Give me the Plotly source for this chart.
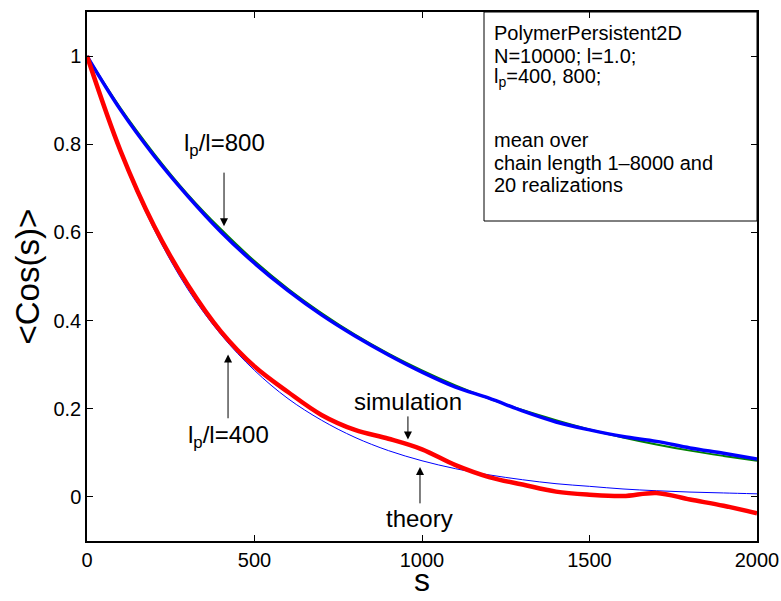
import plotly.graph_objects as go

s = [0, 100, 200, 300, 400, 500, 600, 700, 800, 900, 1000,
     1100, 1200, 1300, 1400, 1500, 1600, 1700, 1800, 1900, 2000]
theory_400 = [1.000, 0.779, 0.607, 0.472, 0.368, 0.287, 0.223, 0.174, 0.135, 0.105, 0.082,
              0.064, 0.050, 0.039, 0.030, 0.024, 0.018, 0.014, 0.011, 0.009, 0.007]
theory_800 = [1.000, 0.882, 0.779, 0.687, 0.607, 0.535, 0.472, 0.417, 0.368, 0.325, 0.287,
              0.253, 0.223, 0.197, 0.174, 0.153, 0.135, 0.119, 0.105, 0.093, 0.082]
sim_400 = [1.000, 0.785, 0.615, 0.482, 0.375, 0.296, 0.238, 0.186, 0.152, 0.132, 0.108,
           0.072, 0.045, 0.028, 0.012, 0.005, 0.002, 0.009, -0.006, -0.020, -0.037]
sim_800 = [1.000, 0.878, 0.774, 0.683, 0.601, 0.530, 0.468, 0.413, 0.365, 0.322, 0.283,
           0.249, 0.224, 0.195, 0.170, 0.152, 0.137, 0.126, 0.111, 0.099, 0.086]

xticks = [0, 500, 1000, 1500, 2000]
yticks = [0, 0.2, 0.4, 0.6, 0.8, 1]
ytick_labels = ["0", "0.2", "0.4", "0.6", "0.8", "1"]

info_lines = ["PolymerPersistent2D", "N=10000; l=1.0;", "l<sub>p</sub>=400, 800;",
              "mean over", "chain length 1\u20138000 and", "20 realizations"]
info_y_px = [33, 56, 78, 140, 163, 185]

FONT = "Liberation Sans, Arial, Helvetica, sans-serif"
W, H = 781, 601
ML, MR, MT, MB = 87, 24, 12, 60
PW, PH = W - ML - MR, H - MT - MB

fig = go.Figure()
fig.add_trace(go.Scatter(x=s, y=theory_800, mode="lines", line=dict(color="#008000", width=2, shape="spline")))
fig.add_trace(go.Scatter(x=s, y=sim_800, mode="lines", line=dict(color="#0000ff", width=3.5, shape="spline")))
fig.add_trace(go.Scatter(x=s, y=theory_400, mode="lines", line=dict(color="#0000ff", width=1, shape="spline")))
fig.add_trace(go.Scatter(x=s, y=sim_400, mode="lines", line=dict(color="#ff0000", width=4.5, shape="spline")))

annots = []
def text_ann(x, y, t, size=24):
    annots.append(dict(x=x, y=y, xref="x", yref="y", text=t, showarrow=False,
                       font=dict(size=size, color="black", family=FONT)))

def arrow(xt, yt, xa, ya):
    annots.append(dict(x=xt, y=yt, ax=xa, ay=ya, xref="x", yref="y", axref="x", ayref="y",
                       text="", showarrow=True, arrowhead=2, arrowsize=1.6, arrowwidth=1,
                       arrowcolor="black", standoff=0, startstandoff=0))

text_ann(409, 0.80, "l<sub>p</sub>/l=800")
arrow(409, 0.614, 409, 0.739)
text_ann(421, 0.136, "l<sub>p</sub>/l=400")
arrow(421, 0.323, 421, 0.175)
text_ann(958, 0.216, "simulation")
arrow(958, 0.130, 958, 0.186)
text_ann(994, -0.048, "theory")
arrow(994, 0.068, 994, -0.018)

for line, ypx in zip(info_lines, info_y_px):
    annots.append(dict(
        x=(492 - ML) / PW, y=1 - (ypx - MT) / PH, xref="paper", yref="paper",
        xanchor="left", yanchor="middle", align="left", showarrow=False,
        text=line, font=dict(size=20, color="black", family=FONT)))

# axis titles
annots.append(dict(x=0.5, y=1 - (580 - MT) / PH, xref="paper", yref="paper",
                   xanchor="center", yanchor="middle", showarrow=False, text="s", borderpad=0,
                   font=dict(size=32, color="black", family=FONT)))
annots.append(dict(x=(27 - ML) / PW, y=0.5, xref="paper", yref="paper", textangle=-90,
                   xanchor="center", yanchor="middle", showarrow=False, text="&lt;Cos(s)&gt;",
                   font=dict(size=33, color="black", family=FONT)))

fig.update_layout(
    width=W, height=H,
    margin=dict(l=ML, r=MR, t=MT, b=MB, autoexpand=False),
    paper_bgcolor="white", plot_bgcolor="white",
    showlegend=False,
    annotations=annots,
    shapes=[dict(type="rect", xref="paper", yref="paper",
                 x0=(484 - ML) / PW, x1=1.0, y0=1 - (221 - MT) / PH, y1=1.0,
                 line=dict(color="black", width=1), fillcolor="white", layer="below")],
    font=dict(family=FONT, color="black"),
)
fig.update_xaxes(range=[0, 2000], tickvals=xticks, ticks="inside", ticklen=6, tickcolor="black",
                 showline=True, linecolor="black", linewidth=1.5, mirror="ticks", showgrid=False,
                 zeroline=False, tickfont=dict(size=20, family=FONT), automargin=False)
fig.update_yaxes(range=[-0.1, 1.1], tickvals=yticks, ticktext=ytick_labels, ticks="inside", ticklen=6,
                 tickcolor="black", showline=True, linecolor="black", linewidth=1.5, mirror="ticks",
                 showgrid=False, zeroline=False, tickfont=dict(size=20, family=FONT), automargin=False)

fig.write_html("out.html")
